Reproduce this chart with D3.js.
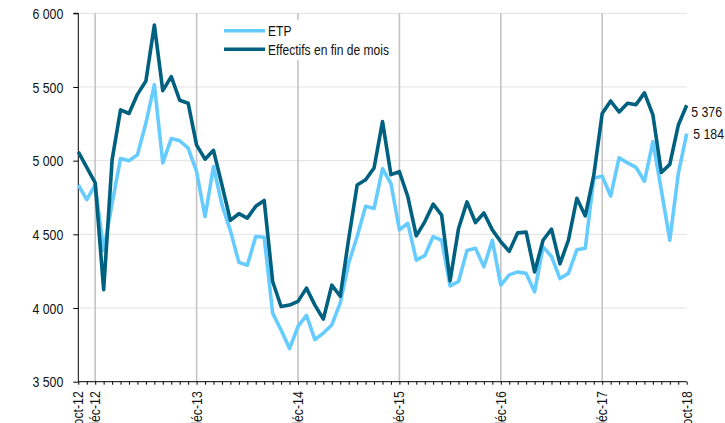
<!DOCTYPE html>
<html><head><meta charset="utf-8">
<script src="https://cdn.jsdelivr.net/npm/d3@7"></script>
<style>
body{margin:0;background:#fff}
svg{display:block}
text{font-family:"Liberation Sans",Arial,sans-serif;fill:#111}
</style>
</head><body><svg id="c" width="725" height="423"></svg>
<script>
// ---- data ----
const monthNames = ["janv","févr","mars","avr","mai","juin","juil","août","sept","oct","nov","déc"];
const months = [];
for (let yr = 12; yr <= 18; yr++) for (let m = 0; m < 12; m++) {
  if ((yr === 12 && m < 9) || (yr === 18 && m > 9)) continue;
  months.push(monthNames[m] + "-" + yr);
}
const tickLabels = ["oct-12","déc-12","déc-13","déc-14","déc-15","déc-16","déc-17","oct-18"];
const gridMonths = ["déc-12","déc-13","déc-14","déc-15","déc-16","déc-17"];
const yTicks = [3500, 4000, 4500, 5000, 5500, 6000];
const seriesNames = ["ETP", "Effectifs en fin de mois"];
const etp = [4835,4735,4835,4390,4710,5015,5000,5040,5255,5515,4985,5150,5135,5085,4925,4620,4960,4700,4525,4310,4290,4485,4480,3965,3850,3725,3875,3950,3785,3830,3885,4035,4305,4485,4690,4675,4945,4845,4530,4575,4325,4355,4485,4460,4150,4180,4390,4405,4280,4460,4155,4225,4245,4235,4110,4415,4350,4200,4235,4395,4405,4880,4895,4760,5020,4985,4955,4860,5130,4800,4460,4910,5184];
const effectifs = [5060,4955,4850,4125,5005,5345,5320,5450,5540,5920,5475,5570,5410,5390,5105,5010,5070,4835,4595,4640,4610,4690,4730,4180,4010,4020,4045,4135,4020,3925,4155,4080,4470,4835,4870,4950,5265,4905,4925,4755,4490,4585,4705,4630,4185,4540,4720,4580,4645,4530,4450,4385,4510,4515,4245,4460,4535,4300,4460,4745,4625,4900,5320,5405,5330,5390,5380,5460,5310,4920,4975,5240,5376];

// ---- layout ----
const L = 78.3, R = 686.7, T = 13.3, B = 381.7;
const colors = ["#66CCFF", "#00607F"];
const fmt = d3.formatLocale({decimal: ",", thousands: " ", grouping: [3], currency: ["", " €"]}).format(",");
const svg = d3.select("#c");
const x = d3.scalePoint().domain(months).range([L, R]);
const y = d3.scaleLinear().domain([3500, 6000]).range([B, T]);
const squeeze = (sel, k) => sel.each(function(){ const w = this.getComputedTextLength(); d3.select(this).attr("textLength", w * k).attr("lengthAdjust", "spacingAndGlyphs"); });
const K = 0.88;

// horizontal grid
svg.append("g").selectAll("line").data(yTicks.filter(v => v > 3500)).join("line")
  .attr("x1", L).attr("x2", R).attr("y1", d => y(d)).attr("y2", d => y(d))
  .attr("stroke", "#e2e2e2").attr("stroke-width", 1);
// vertical grid
svg.append("g").selectAll("line").data(gridMonths).join("line")
  .attr("x1", d => x(d)).attr("x2", d => x(d)).attr("y1", T).attr("y2", B)
  .attr("stroke", "#c4c4c4").attr("stroke-width", 1.6);

// y axis
const yAxis = svg.append("g").attr("transform", `translate(${L},0)`)
  .call(d3.axisLeft(y).tickValues(yTicks).tickSize(5).tickPadding(10).tickFormat(fmt));
yAxis.select(".domain").attr("stroke", "#000").attr("d", `M-5,${T}H0V${B}`);
yAxis.selectAll(".tick line").attr("stroke", "#000");
yAxis.selectAll(".tick text").attr("font-size", 14).attr("fill", "#111").attr("dy", "0.36em")
  .attr("font-family", "Liberation Sans, Arial, sans-serif").call(squeeze, K);

// x axis
const xAxis = svg.append("g").attr("transform", `translate(0,${B})`)
  .call(d3.axisBottom(x).tickSize(3).tickFormat(() => ""));
xAxis.select(".domain").attr("stroke", "#000").attr("d", `M${L},0H${R}`);
xAxis.selectAll(".tick line").attr("stroke", "#000");
svg.append("g").selectAll("text").data(tickLabels).join("text")
  .attr("transform", d => `translate(${x(d)},${B + 9.5}) rotate(-90)`)
  .attr("text-anchor", "end").attr("dy", "0.35em").attr("font-size", 14)
  .text(d => d).call(squeeze, K);

// lines
const line = d3.line().x((d, i) => x(months[i])).y(d => y(d));
[etp, effectifs].forEach((s, k) => {
  svg.append("path").datum(s).attr("d", line).attr("fill", "none")
    .attr("stroke", colors[k]).attr("stroke-width", 3.6).attr("stroke-linejoin", "round");
});

// legend
const lg = svg.append("g");
lg.append("rect").attr("x", 220).attr("y", 20).attr("width", 175).attr("height", 40).attr("fill", "#fff");
seriesNames.forEach((n, k) => {
  const yy = 30.7 + k * 18.6;
  lg.append("line").attr("x1", 224).attr("x2", 265).attr("y1", yy).attr("y2", yy)
    .attr("stroke", colors[k]).attr("stroke-width", 3.6);
  lg.append("text").attr("x", 268).attr("y", yy + 5.2).attr("font-size", 14).text(n).call(squeeze, 0.86);
});

// end labels
const last = months.length - 1;
svg.append("text").attr("x", R + 4.5).attr("y", y(effectifs[last]) + 12)
  .attr("font-size", 14).text(fmt(effectifs[last])).call(squeeze, K);
svg.append("text").attr("x", R + 6.5).attr("y", y(etp[last]) + 5)
  .attr("font-size", 14).text(fmt(etp[last])).call(squeeze, K);
</script>
</body></html>
